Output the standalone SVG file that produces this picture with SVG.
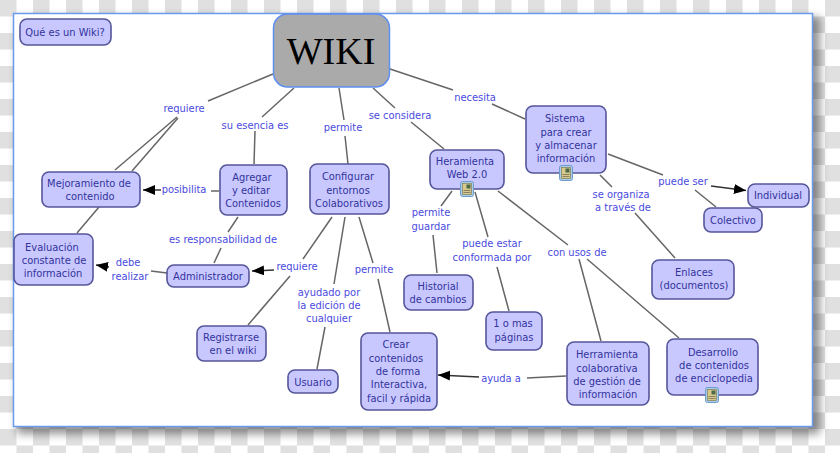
<svg xmlns="http://www.w3.org/2000/svg" width="840" height="453" viewBox="0 0 840 453">
<style>
.n{fill:#c8c8ff;stroke:#55559a;stroke-width:1.6}
.t{font-family:"DejaVu Sans Condensed","DejaVu Sans",sans-serif;font-stretch:condensed;font-size:11px;fill:#33339c;text-anchor:middle}
.l{font-family:"DejaVu Sans Condensed","DejaVu Sans",sans-serif;font-stretch:condensed;font-size:11px;fill:#4a4ae0;text-anchor:middle}
.c{stroke:#666;stroke-width:1.5;fill:none}
.a{stroke:#333;stroke-width:1.5;fill:none;marker-end:url(#arrow)}
</style>
<defs>
<pattern id="ck" width="33" height="33" patternUnits="userSpaceOnUse">
<rect width="33" height="33" fill="#fff"/>
<rect width="16.5" height="16.5" fill="#e0e0e0"/>
<rect x="16.5" y="16.5" width="16.5" height="16.5" fill="#e0e0e0"/>
</pattern>
<filter id="sh" x="-5%" y="-5%" width="110%" height="110%"><feGaussianBlur stdDeviation="4.500"/></filter>
<marker id="arrow" markerUnits="userSpaceOnUse" markerWidth="14" markerHeight="12" refX="12" refY="5" orient="auto"><path d="M0 0L12 5L0 10Z" fill="#000"/></marker>
<g id="doc">
<rect x="-6.500" y="-7.500" width="13" height="15" rx="2" fill="#a9cdea" stroke="#6d9cc8"/>
<rect x="-4.500" y="-5.500" width="9" height="11" fill="#d8c98a" stroke="#77704a" stroke-width=".6"/>
<rect x="-.5" y="-4.500" width="4" height="4" fill="#4a6a4a"/>
<path d="M-3.500 1.500H3.500M-3.500 3.500H3.500" stroke="#665" stroke-width=".7"/>
</g>
</defs>
<rect width="840" height="453" fill="url(#ck)"/>
<rect x="17" y="17" width="803" height="417" fill="#000" opacity=".42" filter="url(#sh)"/>
<rect x="13.500" y="13.500" width="799" height="413" fill="#fff" stroke="#6a9bf0" stroke-width="1.500"/>
<g id="connectors">
<path class="c" d="M273 74L208 101M177 117L115 170M178 118L132 171M99 207L77 233"/>
<path class="c" d="M294 88L262 117M255 131L254 164"/>
<path class="c" d="M339 88L344 120M345 136L348 164"/>
<path class="c" d="M373 88L395 108M411 122L444 149"/>
<path class="c" d="M390 69L453 90M492 104L525 119"/>
<path class="c" d="M608 154L663 175M695 190L716 207M600 175L612 187M635 213L675 258"/>
<path class="a" d="M711 186L746 190.500"/>
<path class="c" d="M452 191L441 206M433 235L437 273M475 192L488 237M497 267L509 311"/>
<path class="c" d="M498 191L568 245M579 259L601 341M587 259L679 338"/>
<path class="c" d="M566 376L527 378"/>
<path class="a" d="M479 377L438 375"/>
<path class="c" d="M238 217L228 232M221 248L214 263M167 273L151 271"/>
<path class="a" d="M109 267L96 265"/>
<path class="a" d="M274 270L252 271"/>
<path class="c" d="M332 217L303 259M290 276L248 325M345 217L334 284M325 327L317 369M359 217L373 263M378 279L390 332"/>
<path class="c" d="M219 191L211 191"/>
<path class="a" d="M161 190L143 190"/>
</g>
<g id="labels">
<text class="l" x="184" y="112">requiere</text>
<text class="l" x="255" y="129">su esencia es</text>
<text class="l" x="343" y="131">permite</text>
<text class="l" x="400" y="119">se considera</text>
<text class="l" x="475" y="101">necesita</text>
<text class="l" x="184" y="193">posibilita</text>
<text class="l" x="683" y="185">puede ser</text>
<text class="l" x="621" y="198">se organiza</text>
<text class="l" x="623" y="211">a través de</text>
<text class="l" x="431" y="216">permite</text>
<text class="l" x="431" y="230">guardar</text>
<text class="l" x="492" y="247">puede estar</text>
<text class="l" x="492" y="261">conformada por</text>
<text class="l" x="577" y="256">con usos de</text>
<text class="l" x="223" y="243">es responsabilidad de</text>
<text class="l" x="128" y="266">debe</text>
<text class="l" x="130" y="280">realizar</text>
<text class="l" x="297" y="270">requiere</text>
<text class="l" x="374" y="273">permite</text>
<text class="l" x="329" y="296">ayudado por</text>
<text class="l" x="329" y="309">la edición de</text>
<text class="l" x="329" y="322">cualquier</text>
<text class="l" x="501" y="382">ayuda a</text>
</g>
<g id="n-que"><rect class="n" x="20" y="19" width="91" height="26" rx="7"/><text class="t" x="65" y="36">Qué es un Wiki?</text></g>
<g id="n-wiki"><rect x="273.500" y="14" width="116" height="73" rx="14" fill="#aaa" stroke="#5f8ff0" stroke-width="1.500"/><text x="331" y="64" font-family="'Liberation Serif',serif" font-size="38" fill="#000" text-anchor="middle">WIKI</text></g>
<g id="n-mejor"><rect class="n" x="42" y="172" width="98" height="35" rx="7"/><text class="t" x="89" y="187">Mejoramiento de</text><text class="t" x="90" y="200">contenido</text></g>
<g id="n-agregar"><rect class="n" x="220" y="165" width="67" height="50" rx="7"/><text class="t" x="252" y="181">Agregar</text><text class="t" x="251" y="194">y editar</text><text class="t" x="253" y="207">Contenidos</text></g>
<g id="n-config"><rect class="n" x="310" y="164" width="79" height="50" rx="7"/><text class="t" x="348" y="180">Configurar</text><text class="t" x="348" y="194">entornos</text><text class="t" x="349" y="207">Colaborativos</text></g>
<g id="n-eval"><rect class="n" x="14" y="234" width="79" height="51" rx="7"/><text class="t" x="52" y="251">Evaluación</text><text class="t" x="54" y="264">constante de</text><text class="t" x="53" y="277">información</text></g>
<g id="n-admin"><rect class="n" x="167" y="265" width="82" height="22" rx="7"/><text class="t" x="208" y="280">Administrador</text></g>
<g id="n-reg"><rect class="n" x="197" y="326" width="69" height="35" rx="7"/><text class="t" x="231" y="341">Registrarse</text><text class="t" x="233" y="354">en el wiki</text></g>
<g id="n-usuario"><rect class="n" x="288" y="370" width="50" height="23" rx="7"/><text class="t" x="313" y="386">Usuario</text></g>
<g id="n-crear"><rect class="n" x="361" y="333" width="76" height="77" rx="7"/><text class="t" x="396" y="348">Crear</text><text class="t" x="396" y="362">contenidos</text><text class="t" x="398" y="375">de forma</text><text class="t" x="399" y="388">Interactiva,</text><text class="t" x="399" y="402">facil y rápida</text></g>
<g id="n-hist"><rect class="n" x="404" y="275" width="69" height="35" rx="7"/><text class="t" x="438" y="290">Historial</text><text class="t" x="438" y="303">de cambios</text></g>
<g id="n-mas"><rect class="n" x="486" y="312" width="56" height="38" rx="7"/><text class="t" x="513" y="327">1 o mas</text><text class="t" x="514" y="341">páginas</text></g>
<g id="n-herr"><rect class="n" x="567" y="342" width="82" height="63" rx="7"/><text class="t" x="607" y="358">Herramienta</text><text class="t" x="607" y="372">colaborativa</text><text class="t" x="607" y="385">de gestión de</text><text class="t" x="608" y="398">información</text></g>
<g id="n-desa"><rect class="n" x="667" y="339" width="91" height="56" rx="7"/><text class="t" x="713" y="356">Desarrollo</text><text class="t" x="714" y="369">de contenidos</text><text class="t" x="714" y="382">de enciclopedia</text><use href="#doc" x="712" y="395"/></g>
<g id="n-enl"><rect class="n" x="652" y="260" width="82" height="39" rx="7"/><text class="t" x="694" y="276">Enlaces</text><text class="t" x="694" y="289">(documentos)</text></g>
<g id="n-col"><rect class="n" x="704" y="208" width="58" height="24" rx="7"/><text class="t" x="733" y="224">Colectivo</text></g>
<g id="n-ind"><rect class="n" x="748" y="184" width="61" height="23" rx="7"/><text class="t" x="778" y="199">Individual</text></g>
<g id="n-hera"><rect class="n" x="430" y="150" width="74" height="39" rx="7"/><text class="t" x="465" y="165">Heramienta</text><text class="t" x="467" y="178">Web 2.0</text><use href="#doc" x="467" y="189"/></g>
<g id="n-sist"><rect class="n" x="526" y="106" width="80" height="67" rx="7"/><text class="t" x="565" y="122">Sistema</text><text class="t" x="566" y="136">para crear</text><text class="t" x="566" y="149">y almacenar</text><text class="t" x="566" y="162">información</text><use href="#doc" x="566" y="173"/></g>
</svg>
